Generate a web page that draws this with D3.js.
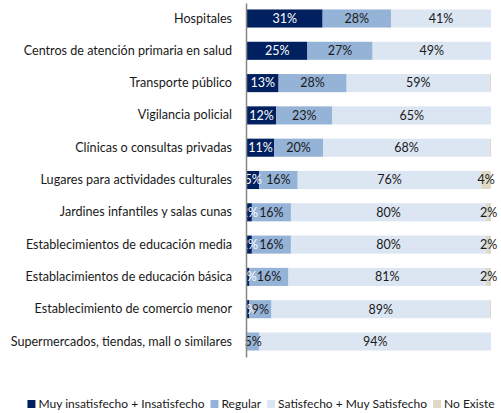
<!DOCTYPE html>
<html>
<head>
<meta charset="utf-8">
<script src="https://cdn.jsdelivr.net/npm/d3@7"></script>
<style>
  body { margin: 0; background: #fff; }
  text { font-family: Lato, "Liberation Sans", sans-serif; }
</style>
</head>
<body>
<svg id="chart" width="501" height="413"></svg>
<script>
'use strict'

const categories = [
    'Hospitales',
    'Centros de atención primaria en salud',
    'Transporte público',
    'Vigilancia policial',
    'Clínicas o consultas privadas',
    'Lugares para actividades culturales',
    'Jardines infantiles y salas cunas',
    'Establecimientos de educación media',
    'Establacimientos de educación básica',
    'Establecimiento de comercio menor',
    'Supermercados, tiendas, mall o similares'
]

const seriesNames = ['Muy insatisfecho + Insatisfecho', 'Regular', 'Satisfecho + Muy Satisfecho', 'No Existe']

const insatisfecho = [31, 25, 13, 12, 11, 5, 2, 2, 1, 1, 0]
const regular = [28, 27, 28, 23, 20, 16, 16, 16, 16, 9, 5]
const satisfecho = [41, 49, 59, 65, 68, 76, 80, 80, 81, 89, 94]
const noExiste = [0, 0, 0.4, 0, 0.4, 4, 2, 2, 2, 0.4, 0]

const colors = ['#002060', '#95b3d7', '#dce6f2', '#ddd9c4']

const svg = d3.select('#chart')

const rows = categories.map((c, i) => ({
    cat: c,
    s0: insatisfecho[i],
    s1: regular[i],
    s2: satisfecho[i],
    s3: noExiste[i]
}))

const stack = d3.stack()
    .keys(['s0', 's1', 's2', 's3'])
    .offset(d3.stackOffsetExpand)
const layers = stack(rows)

const x = d3.scaleLinear().domain([0, 1]).range([247, 491])
const y = d3.scaleBand()
    .domain(categories)
    .range([3, 357])
    .paddingInner(0.44)
    .paddingOuter(0.2)

const groups = svg.append('g')
    .selectAll('g')
    .data(layers)
    .join('g')
    .attr('fill', (d, i) => colors[i])

groups.selectAll('rect')
    .data(d => d)
    .join('rect')
    .attr('x', d => x(d[0]))
    .attr('y', d => y(d.data.cat))
    .attr('width', d => Math.max(0, x(d[1]) - x(d[0])))
    .attr('height', y.bandwidth())

// data labels, later series drawn on top
const labelData = []
layers.forEach((layer, i) => {
    layer.forEach(d => {
        const v = d.data[layer.key]
        if (v >= 1) {
            labelData.push({ i: i, v: v, cat: d.data.cat, mid: (x(d[0]) + x(d[1])) / 2 })
        }
    })
})

svg.append('g')
    .selectAll('text')
    .data(labelData)
    .join('text')
    .attr('x', d => d.mid)
    .attr('y', d => y(d.cat) + y.bandwidth() / 2)
    .attr('dy', '0.35em')
    .attr('text-anchor', 'middle')
    .attr('font-size', 12.5)
    .attr('fill', d => d.i == 0 ? '#fff' : '#1a1a1a')
    .text(d => `${d.v}%`)

// category axis
const axis = svg.append('g')
    .attr('transform', 'translate(246,0)')
    .call(d3.axisLeft(y).tickSize(0).tickPadding(14))
axis.select('.domain').attr('stroke', '#868686').attr('stroke-width', 1.5)
axis.selectAll('text')
    .attr('font-size', 12.6)
    .attr('fill', '#1a1a1a')
    .style('font-family', 'Lato, "Liberation Sans", sans-serif')

// legend, items placed one after another and centred
const legend = svg.append('g')
const items = legend.selectAll('g')
    .data(seriesNames)
    .join('g')
items.append('rect')
    .attr('width', 8)
    .attr('height', 8)
    .attr('y', -4)
    .attr('fill', (d, i) => colors[i])
const legendText = items.append('text')
    .attr('x', 11)
    .attr('dy', '0.35em')
    .attr('font-size', 12.6)
    .attr('fill', '#1a1a1a')
    .text(d => d)

const layoutLegend = () => {
    let pos = 0
    items.each(function () {
        d3.select(this).attr('transform', `translate(${pos},0)`)
        pos += 11 + d3.select(this).select('text').node().getComputedTextLength() + 6
    })
    return pos - 6
}
let total = layoutLegend()
if (total > 468) {
    legendText.attr('font-size', 12.6 * (468 - 4 * 17) / (total - 4 * 17))
    total = layoutLegend()
}
legend.attr('transform', `translate(${261 - total / 2},404)`)
</script>
</body>
</html>
